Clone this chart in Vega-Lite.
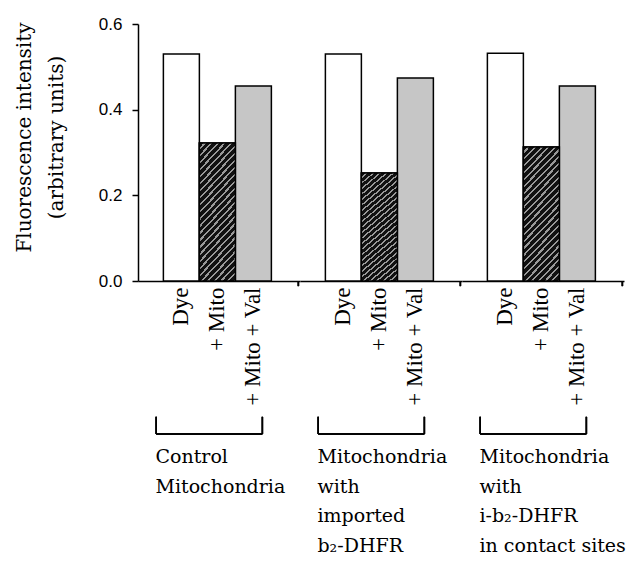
{
  "$schema": "https://vega.github.io/schema/vega-lite/v6.json",
  "padding": {"left": 14, "top": 15, "right": 5, "bottom": 5},
  "background": "white",
  "bounds": "flush",
  "config": {"view": {"stroke": null}},
  "data": {"values": [
    {"group": "Control/Mitochondria", "cond": "Dye", "value": 0.53},
    {"group": "Control/Mitochondria", "cond": "+ Mito", "value": 0.322},
    {"group": "Control/Mitochondria", "cond": "+ Mito + Val", "value": 0.455},
    {"group": "Mitochondria/with/imported/b₂-DHFR", "cond": "Dye", "value": 0.53},
    {"group": "Mitochondria/with/imported/b₂-DHFR", "cond": "+ Mito", "value": 0.252},
    {"group": "Mitochondria/with/imported/b₂-DHFR", "cond": "+ Mito + Val", "value": 0.474},
    {"group": "Mitochondria/with/i-b₂-DHFR/in contact sites", "cond": "Dye", "value": 0.532},
    {"group": "Mitochondria/with/i-b₂-DHFR/in contact sites", "cond": "+ Mito", "value": 0.313},
    {"group": "Mitochondria/with/i-b₂-DHFR/in contact sites", "cond": "+ Mito + Val", "value": 0.455}
  ]},
  "spacing": 0,
  "facet": {
    "column": {
      "field": "group",
      "type": "nominal",
      "sort": ["Control/Mitochondria", "Mitochondria/with/imported/b₂-DHFR", "Mitochondria/with/i-b₂-DHFR/in contact sites"],
      "header": {"title": null, "labels": false}
    }
  },
  "spec": {
    "width": 162,
    "height": 257,
    "encoding": {
      "y": {
        "field": "value", "type": "quantitative",
        "scale": {"domain": [0, 0.6], "nice": false},
        "axis": {
          "title": ["Fluorescence intensity", "(arbitrary units)"],
          "titleFont": "DejaVu Serif", "titleFontSize": 20, "titleFontWeight": "normal",
          "titleColor": "black", "titleLineHeight": 32, "titlePadding": 32, "titleY": 113,
          "values": [0, 0.2, 0.4, 0.6], "format": ".1f",
          "labelFont": "Liberation Sans", "labelFontSize": 17, "labelColor": "black", "labelPadding": 10,
          "tickColor": "black", "tickSize": 6, "tickWidth": 1.5,
          "domainColor": "black", "domainWidth": 1.5, "grid": false
        }
      }
    },
    "layer": [
      {
        "mark": {"type": "bar", "stroke": "black", "strokeWidth": 1.5},
        "encoding": {
          "x": {
            "field": "cond", "type": "nominal",
            "scale": {"domain": ["Dye", "+ Mito", "+ Mito + Val"], "paddingInner": 0, "paddingOuter": 0.75, "align": 0.47},
            "axis": {
              "title": null, "ticks": false, "labelAngle": -90,
              "labelFont": "Liberation Serif", "labelFontSize": 23, "labelColor": "black",
              "labelPadding": 6, "domainColor": "black", "domainWidth": 1.5
            }
          },
          "fill": {
            "field": "cond", "type": "nominal",
            "scale": {"domain": ["Dye", "+ Mito", "+ Mito + Val"], "range": ["white", "#1a1a1a", "#c6c6c6"]},
            "legend": null
          }
        }
      },
      {
        "transform": [{"filter": "datum.cond === '+ Mito'"}],
        "mark": {
          "type": "bar", "stroke": "black", "strokeWidth": 1.5,
          "fill": {
            "gradient": "linear", "x1": 0, "y1": 0, "x2": 0.332, "y2": 1.187,
            "stops": [
              {"offset": 0, "color": "#111"}, {"offset": 0.027, "color": "#111"}, {"offset": 0.027, "color": "#999"}, {"offset": 0.04, "color": "#999"},
              {"offset": 0.04, "color": "#111"}, {"offset": 0.067, "color": "#111"}, {"offset": 0.067, "color": "#999"}, {"offset": 0.08, "color": "#999"},
              {"offset": 0.08, "color": "#111"}, {"offset": 0.107, "color": "#111"}, {"offset": 0.107, "color": "#999"}, {"offset": 0.12, "color": "#999"},
              {"offset": 0.12, "color": "#111"}, {"offset": 0.147, "color": "#111"}, {"offset": 0.147, "color": "#999"}, {"offset": 0.16, "color": "#999"},
              {"offset": 0.16, "color": "#111"}, {"offset": 0.187, "color": "#111"}, {"offset": 0.187, "color": "#999"}, {"offset": 0.2, "color": "#999"},
              {"offset": 0.2, "color": "#111"}, {"offset": 0.227, "color": "#111"}, {"offset": 0.227, "color": "#999"}, {"offset": 0.24, "color": "#999"},
              {"offset": 0.24, "color": "#111"}, {"offset": 0.267, "color": "#111"}, {"offset": 0.267, "color": "#999"}, {"offset": 0.28, "color": "#999"},
              {"offset": 0.28, "color": "#111"}, {"offset": 0.307, "color": "#111"}, {"offset": 0.307, "color": "#999"}, {"offset": 0.32, "color": "#999"},
              {"offset": 0.32, "color": "#111"}, {"offset": 0.347, "color": "#111"}, {"offset": 0.347, "color": "#999"}, {"offset": 0.36, "color": "#999"},
              {"offset": 0.36, "color": "#111"}, {"offset": 0.387, "color": "#111"}, {"offset": 0.387, "color": "#999"}, {"offset": 0.4, "color": "#999"},
              {"offset": 0.4, "color": "#111"}, {"offset": 0.427, "color": "#111"}, {"offset": 0.427, "color": "#999"}, {"offset": 0.44, "color": "#999"},
              {"offset": 0.44, "color": "#111"}, {"offset": 0.467, "color": "#111"}, {"offset": 0.467, "color": "#999"}, {"offset": 0.48, "color": "#999"},
              {"offset": 0.48, "color": "#111"}, {"offset": 0.507, "color": "#111"}, {"offset": 0.507, "color": "#999"}, {"offset": 0.52, "color": "#999"},
              {"offset": 0.52, "color": "#111"}, {"offset": 0.547, "color": "#111"}, {"offset": 0.547, "color": "#999"}, {"offset": 0.56, "color": "#999"},
              {"offset": 0.56, "color": "#111"}, {"offset": 0.587, "color": "#111"}, {"offset": 0.587, "color": "#999"}, {"offset": 0.6, "color": "#999"},
              {"offset": 0.6, "color": "#111"}, {"offset": 0.627, "color": "#111"}, {"offset": 0.627, "color": "#999"}, {"offset": 0.64, "color": "#999"},
              {"offset": 0.64, "color": "#111"}, {"offset": 0.667, "color": "#111"}, {"offset": 0.667, "color": "#999"}, {"offset": 0.68, "color": "#999"},
              {"offset": 0.68, "color": "#111"}, {"offset": 0.707, "color": "#111"}, {"offset": 0.707, "color": "#999"}, {"offset": 0.72, "color": "#999"},
              {"offset": 0.72, "color": "#111"}, {"offset": 0.747, "color": "#111"}, {"offset": 0.747, "color": "#999"}, {"offset": 0.76, "color": "#999"},
              {"offset": 0.76, "color": "#111"}, {"offset": 0.787, "color": "#111"}, {"offset": 0.787, "color": "#999"}, {"offset": 0.8, "color": "#999"},
              {"offset": 0.8, "color": "#111"}, {"offset": 0.827, "color": "#111"}, {"offset": 0.827, "color": "#999"}, {"offset": 0.84, "color": "#999"},
              {"offset": 0.84, "color": "#111"}, {"offset": 0.867, "color": "#111"}, {"offset": 0.867, "color": "#999"}, {"offset": 0.88, "color": "#999"},
              {"offset": 0.88, "color": "#111"}, {"offset": 0.907, "color": "#111"}, {"offset": 0.907, "color": "#999"}, {"offset": 0.92, "color": "#999"},
              {"offset": 0.92, "color": "#111"}, {"offset": 0.947, "color": "#111"}, {"offset": 0.947, "color": "#999"}, {"offset": 0.96, "color": "#999"},
              {"offset": 0.96, "color": "#111"}, {"offset": 0.987, "color": "#111"}, {"offset": 0.987, "color": "#999"}, {"offset": 1, "color": "#999"}
            ]
          }
        },
        "encoding": {
          "x": {"field": "cond", "type": "nominal"}
        }
      },
      {
        "mark": {"type": "rule", "stroke": "black", "strokeWidth": 1.5},
        "encoding": {
          "x": {"datum": "Dye", "type": "nominal", "bandPosition": -0.2},
          "x2": {"datum": "+ Mito + Val", "bandPosition": 0.75},
          "y": {"datum": -0.357, "type": "quantitative"}
        }
      },
      {
        "mark": {"type": "rule", "stroke": "black", "strokeWidth": 1.5},
        "encoding": {
          "x": {"datum": "Dye", "type": "nominal", "bandPosition": -0.2},
          "y": {"datum": -0.357, "type": "quantitative"},
          "y2": {"datum": -0.317}
        }
      },
      {
        "mark": {"type": "rule", "stroke": "black", "strokeWidth": 1.5},
        "encoding": {
          "x": {"datum": "+ Mito + Val", "type": "nominal", "bandPosition": 0.75},
          "y": {"datum": -0.357, "type": "quantitative"},
          "y2": {"datum": -0.317}
        }
      },
      {
        "mark": {"type": "rule", "stroke": "black", "strokeWidth": 1.5},
        "encoding": {
          "x": {"datum": "+ Mito + Val", "type": "nominal", "bandPosition": 1.75},
          "y": {"datum": 0, "type": "quantitative"},
          "y2": {"datum": -0.012}
        }
      },
      {
        "transform": [{"filter": "datum.cond === 'Dye'"}],
        "mark": {
          "type": "text", "align": "left", "baseline": "alphabetic",
          "font": "DejaVu Serif", "fontSize": 19, "color": "black",
          "lineBreak": "/", "lineHeight": 29.5
        },
        "encoding": {
          "x": {"datum": "Dye", "type": "nominal", "bandPosition": -0.22},
          "y": {"datum": -0.426, "type": "quantitative"},
          "text": {"field": "group", "type": "nominal"}
        }
      }
    ]
  }
}
